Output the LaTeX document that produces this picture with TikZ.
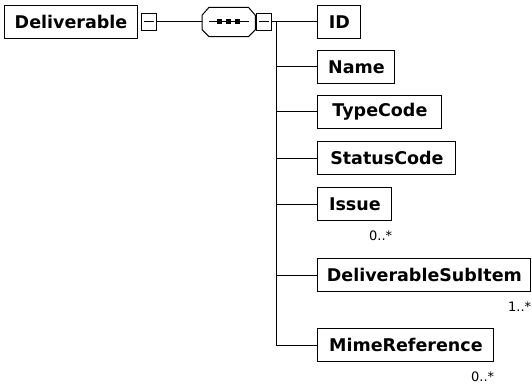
\documentclass[tikz,border=0pt]{standalone}
\usepackage{fontspec}
\setmainfont{DejaVu Sans}
\usetikzlibrary{positioning}

\begin{document}
\begin{tikzpicture}[x=1pt, y=-1pt, node distance=3pt,
    elem/.style={draw, line width=1pt, font=\bfseries\fontsize{17.5}{20}\selectfont,
        minimum height=33pt, inner xsep=3pt, anchor=west},
    minus/.style={draw, line width=1pt, minimum width=15pt, minimum height=17pt, inner sep=0pt},
    card/.style={font=\fontsize{13}{15}\selectfont, inner sep=0pt},
    link/.style={line width=1pt}]
    \useasboundingbox (0,0) rectangle (532,385);

    \node (Deliverable) [elem, minimum width=133pt] at (4,22) {Deliverable};
    \node (DelMinus) [minus, right=3pt of Deliverable] {};
    \node (Seq) [minimum width=53pt, minimum height=29pt, inner sep=0pt, right=45pt of DelMinus] {};
    \node (SeqMinus) [minus, right=1pt of Seq] {};
    \coordinate (Bus) at ([xshift=4pt]SeqMinus.east);

    % sequence compositor
    \draw[link] ([xshift=7pt]Seq.north west) -- ([xshift=-7pt]Seq.north east)
        -- ([yshift=-8pt]Seq.north east) -- ([yshift=7pt]Seq.south east)
        -- ([xshift=-7pt]Seq.south east) -- ([xshift=7pt]Seq.south west)
        -- ([yshift=7pt]Seq.south west) -- ([yshift=-8pt]Seq.north west) -- cycle;
    \draw[link] ([xshift=7pt]Seq.west) -- ([xshift=-6pt]Seq.east);
    \foreach \dx in {-9,0,9}
        \fill ([xshift=\dx pt]Seq.center) +(-2.5,-2.5) rectangle +(2.5,2.5);

    % collapse signs
    \foreach \sign in {DelMinus, SeqMinus}
        \draw[link] ([xshift=3pt]\sign.west) -- ([xshift=-3pt]\sign.east);

    % child elements
    \node (ID) [elem, minimum width=43pt, right=45pt of SeqMinus] {ID};
    \node (Name) [elem, minimum width=77pt, below=11pt of ID.south west, anchor=north west] {Name};
    \node (TypeCode) [elem, minimum width=124pt, below=11pt of Name.south west, anchor=north west] {TypeCode};
    \node (StatusCode) [elem, minimum width=138pt, below=12pt of TypeCode.south west, anchor=north west] {StatusCode};
    \node (Issue) [elem, minimum width=74pt, below=12pt of StatusCode.south west, anchor=north west] {Issue};
    \node (SubItem) [elem, minimum width=213pt, below=37pt of Issue.south west, anchor=north west] {DeliverableSubItem};
    \node (Mime) [elem, minimum width=176pt, below=36pt of SubItem.south west, anchor=north west] {MimeReference};

    % cardinalities
    \node (IssueCard) [card, below=10pt of Issue.south east, anchor=north east] {0..*};
    \node (SubItemCard) [card, below=10pt of SubItem.south east, anchor=north east] {1..*};
    \node (MimeCard) [card, below=10pt of Mime.south east, anchor=north east] {0..*};

    % connectors
    \draw[link] (DelMinus.east) -- (Seq.west);
    \draw[link] (SeqMinus.east) -- (ID.west);
    \foreach \child in {Name, TypeCode, StatusCode, Issue, SubItem, Mime}
        \draw[link] (Bus) |- (\child.west);
\end{tikzpicture}
\end{document}
